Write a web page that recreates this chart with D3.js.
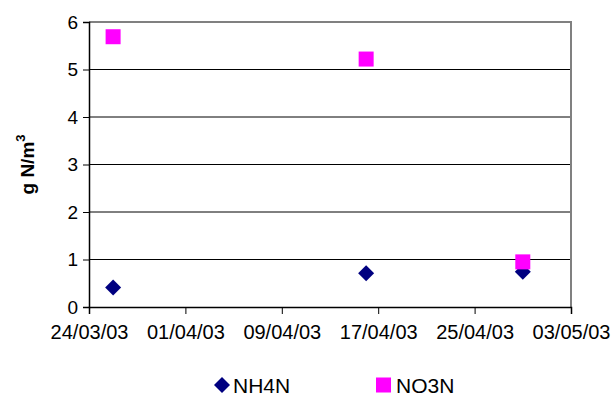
<!DOCTYPE html>
<html>
<head>
<meta charset="utf-8">
<script src="https://cdn.jsdelivr.net/npm/d3@7"></script>
<style>
  html, body { margin: 0; padding: 0; background: #fff; }
  svg { display: block; font-family: Arial, "Liberation Sans", sans-serif; }
</style>
</head>
<body>
<svg id="chart" width="612" height="410"></svg>
<script>
// Sampling dates and nitrogen concentrations (g N/m3)
const sampleDates = ["26/03/03", "16/04/03", "29/04/03"];
const nh4n = [0.41, 0.71, 0.74];
const no3n = [5.69, 5.22, 0.95];

// Axis ticks
const xTickLabels = ["24/03/03", "01/04/03", "09/04/03", "17/04/03", "25/04/03", "03/05/03"];
const yTickValues = [0, 1, 2, 3, 4, 5, 6];

const seriesNames = ["NH4N", "NO3N"];
const seriesColors = ["#000080", "#FF00FF"];

const parse = d3.timeParse("%d/%m/%y");
const fmt = d3.timeFormat("%d/%m/%y");

const svg = d3.select("#chart");
const plot = { left: 89, right: 571, top: 22, bottom: 307 };

const x = d3.scaleTime()
  .domain([parse(xTickLabels[0]), parse(xTickLabels[xTickLabels.length - 1])])
  .range([plot.left, plot.right]);
const y = d3.scaleLinear().domain([0, 6]).range([plot.bottom, plot.top]);

// horizontal gridlines
svg.append("g")
  .selectAll("line")
  .data(yTickValues.filter(v => v > 0))
  .join("line")
  .attr("x1", plot.left).attr("x2", plot.right)
  .attr("y1", d => y(d)).attr("y2", d => y(d))
  .attr("stroke", "#000").attr("stroke-width", 1);

// plot area border (top and right)
svg.append("path")
  .attr("d", `M${plot.left},${plot.top}H${plot.right}V${plot.bottom}`)
  .attr("fill", "none").attr("stroke", "#808080").attr("stroke-width", 2);

// y axis
const yAxis = svg.append("g")
  .attr("transform", `translate(${plot.left},0)`)
  .call(d3.axisLeft(y).tickValues(yTickValues).tickFormat(d3.format("d")).tickSize(6).tickPadding(5));
yAxis.select(".domain").attr("stroke", "#000").attr("stroke-width", 1.5);
yAxis.selectAll(".tick line").attr("stroke", "#000");
yAxis.selectAll("text").attr("font-size", 19).attr("fill", "#000")
  .attr("font-family", "Arial, 'Liberation Sans', sans-serif");

// x axis
const xAxis = svg.append("g")
  .attr("transform", `translate(0,${plot.bottom})`)
  .call(d3.axisBottom(x).tickValues(xTickLabels.map(parse)).tickFormat(fmt).tickSize(7).tickPadding(11));
xAxis.select(".domain").attr("stroke", "#000").attr("stroke-width", 1.5);
xAxis.selectAll(".tick line").attr("stroke", "#000");
xAxis.selectAll("text").attr("font-size", 20).attr("fill", "#000")
  .attr("font-family", "Arial, 'Liberation Sans', sans-serif");

// y axis title
const title = svg.append("text")
  .attr("transform", `translate(34,${(plot.top + plot.bottom) / 2}) rotate(-90)`)
  .attr("text-anchor", "middle")
  .attr("font-size", 19).attr("font-weight", "bold").attr("fill", "#000");
title.append("tspan").text("g N/m");
title.append("tspan").attr("font-size", 13).attr("dy", -9).text("3");

// markers
const diamondPath = s => `M0,${-s}L${s},0L0,${s}L${-s},0Z`;

svg.append("g").selectAll("path")
  .data(sampleDates.map((d, i) => ({ date: parse(d), v: nh4n[i] })))
  .join("path")
  .attr("transform", d => `translate(${x(d.date)},${y(d.v)})`)
  .attr("d", diamondPath(8))
  .attr("fill", seriesColors[0]);

svg.append("g").selectAll("rect")
  .data(sampleDates.map((d, i) => ({ date: parse(d), v: no3n[i] })))
  .join("rect")
  .attr("x", d => x(d.date) - 7.5).attr("y", d => y(d.v) - 7.5)
  .attr("width", 15).attr("height", 15)
  .attr("fill", seriesColors[1]);

// legend
const legend = svg.append("g").attr("transform", "translate(0,385)");
legend.append("path").attr("transform", "translate(222,0)")
  .attr("d", diamondPath(8)).attr("fill", seriesColors[0]);
legend.append("text").attr("x", 233).attr("y", 7.5)
  .attr("font-size", 21).attr("fill", "#000").text(seriesNames[0]);
legend.append("rect").attr("x", 376).attr("y", -7.5).attr("width", 15).attr("height", 15)
  .attr("fill", seriesColors[1]);
legend.append("text").attr("x", 396).attr("y", 7.5)
  .attr("font-size", 21).attr("fill", "#000").text(seriesNames[1]);
</script>
</body>
</html>
